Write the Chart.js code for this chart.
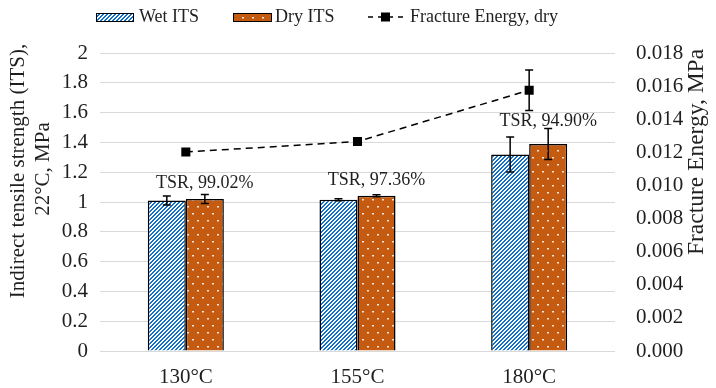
<!DOCTYPE html>
<html>
<head>
<meta charset="utf-8">
<script src="https://cdn.jsdelivr.net/npm/chart.js@4"></script>
<style>
  html, body { margin: 0; padding: 0; background: #fff; }
  canvas { display: block; }
</style>
</head>
<body>
<canvas id="chart" width="716" height="388"></canvas>
<script>
// Mixing temperatures on the category axis
const categories = ['130°C', '155°C', '180°C'];

// Indirect tensile strength (MPa), wet and dry conditioned, with error ranges
const wetITS = [1.010, 1.015, 1.319];
const wetErr = [0.030, 0.007, 0.118];
const dryITS = [1.020, 1.042, 1.390];
const dryErr = [0.030, 0.007, 0.104];

// Tensile strength ratio (%)
const tsr = [99.02, 97.36, 94.90];

// Fracture energy of dry specimens (MPa)
const fractureEnergy = [0.01202, 0.01265, 0.01575];
const fractureErr = [0, 0, 0.00123];

// Axis tick values
const itsTicks = [0, 0.2, 0.4, 0.6, 0.8, 1, 1.2, 1.4, 1.6, 1.8, 2];
const feTicks = [0, 0.002, 0.004, 0.006, 0.008, 0.010, 0.012, 0.014, 0.016, 0.018];

const FONT = "'Liberation Serif', 'Times New Roman', serif";
const TEXT = '#1f1f1f';

// Fill patterns: blue diagonal hatch and orange with white dots
function hatchPattern(ctx) {
  const c = document.createElement('canvas');
  c.width = 4; c.height = 4;
  const g = c.getContext('2d');
  g.fillStyle = '#ffffff';
  g.fillRect(0, 0, 4, 4);
  g.fillStyle = '#1170cc';
  for (let x = 0; x < 4; x++) {
    for (let y = 0; y < 4; y++) {
      if ((x + y) % 4 < 2) g.fillRect(x, y, 1, 1);
    }
  }
  return ctx.createPattern(c, 'repeat');
}
function dotPattern(ctx) {
  const c = document.createElement('canvas');
  c.width = 10; c.height = 14;
  const g = c.getContext('2d');
  g.fillStyle = '#c55a11';
  g.fillRect(0, 0, 10, 14);
  g.fillStyle = 'rgba(255,255,255,0.85)';
  g.fillRect(2, 3, 2, 1.5);
  g.fillRect(7, 10, 2, 1.5);
  return ctx.createPattern(c, 'repeat');
}

const canvas = document.getElementById('chart');
const ctx0 = canvas.getContext('2d');
const wetFill = hatchPattern(ctx0);
const dryFill = dotPattern(ctx0);

// Error bars drawn from each dataset's value and its error range
const errorBars = {
  id: 'errorBars',
  afterDatasetsDraw(chart) {
    const ctx = chart.ctx;
    ctx.save();
    ctx.strokeStyle = '#000';
    ctx.lineWidth = 1.5;
    chart.data.datasets.forEach((ds, di) => {
      if (!ds.errors) return;
      const meta = chart.getDatasetMeta(di);
      const sc = chart.scales[meta.yAxisID];
      meta.data.forEach((el, i) => {
        const e = ds.errors[i];
        if (!e) return;
        const v = ds.data[i];
        const yTop = sc.getPixelForValue(v + e);
        const yBot = sc.getPixelForValue(v - e);
        const x = el.x;
        ctx.beginPath();
        ctx.moveTo(x, yTop); ctx.lineTo(x, yBot);
        ctx.moveTo(x - 4, yTop); ctx.lineTo(x + 4, yTop);
        ctx.moveTo(x - 4, yBot); ctx.lineTo(x + 4, yBot);
        ctx.stroke();
      });
    });
    ctx.restore();
  }
};

// TSR labels above the dry bars
const tsrLabels = {
  id: 'tsrLabels',
  afterDatasetsDraw(chart) {
    const ctx = chart.ctx;
    const meta = chart.getDatasetMeta(1);
    const sc = chart.scales.y;
    ctx.save();
    ctx.font = '18px ' + FONT;
    ctx.fillStyle = TEXT;
    ctx.textAlign = 'center';
    ctx.textBaseline = 'alphabetic';
    meta.data.forEach((el, i) => {
      const errTop = sc.getPixelForValue(dryITS[i] + dryErr[i]);
      const y = Math.min(el.y - 11, errTop - 2);
      ctx.fillText('TSR, ' + tsr[i].toFixed(2) + '%', el.x, y);
    });
    ctx.restore();
  }
};

// Axis titles and legend
const decorations = {
  id: 'decorations',
  afterDraw(chart) {
    const ctx = chart.ctx;
    ctx.save();
    ctx.fillStyle = TEXT;
    ctx.textAlign = 'center';
    ctx.textBaseline = 'middle';

    // left axis title (two lines, rotated)
    ctx.font = '21px ' + FONT;
    ctx.save();
    ctx.translate(18, 171);
    ctx.rotate(-Math.PI / 2);
    ctx.fillText('Indirect tensile strength (ITS),', 0, 0);
    ctx.restore();
    ctx.save();
    ctx.translate(43, 169);
    ctx.rotate(-Math.PI / 2);
    ctx.fillText('22°C, MPa', 0, 0);
    ctx.restore();

    // right axis title
    ctx.save();
    ctx.font = '23.5px ' + FONT;
    ctx.translate(697, 152);
    ctx.rotate(-Math.PI / 2);
    ctx.fillText('Fracture Energy, MPa', 0, 0);
    ctx.restore();

    // legend
    const ly = 17;
    ctx.font = '18px ' + FONT;
    ctx.textAlign = 'left';
    ctx.lineWidth = 1;
    ctx.strokeStyle = '#000';

    ctx.fillStyle = wetFill;
    ctx.fillRect(96, 13, 38, 9);
    ctx.strokeRect(96.5, 13.5, 37, 8);
    ctx.fillStyle = TEXT;
    ctx.fillText(chart.data.datasets[0].label, 139, ly);

    ctx.fillStyle = dryFill;
    ctx.fillRect(233, 13, 39, 9);
    ctx.strokeRect(233.5, 13.5, 38, 8);
    ctx.fillStyle = TEXT;
    ctx.fillText(chart.data.datasets[1].label, 275, ly);

    ctx.lineWidth = 1.5;
    ctx.setLineDash([5, 5]);
    ctx.beginPath();
    ctx.moveTo(368, ly); ctx.lineTo(404, ly);
    ctx.stroke();
    ctx.setLineDash([]);
    ctx.fillStyle = '#000';
    ctx.fillRect(381, ly - 4.5, 9, 9);
    ctx.fillStyle = TEXT;
    ctx.fillText(chart.data.datasets[2].label, 410, ly);

    ctx.restore();
  }
};

Chart.defaults.font.family = FONT;
Chart.defaults.color = TEXT;

new Chart(canvas, {
  data: {
    labels: categories,
    datasets: [
      {
        type: 'bar',
        label: 'Wet ITS',
        data: wetITS,
        errors: wetErr,
        yAxisID: 'y',
        backgroundColor: wetFill,
        borderColor: '#000',
        borderWidth: 1.5,
        categoryPercentage: 0.443,
        barPercentage: 1.0,
        order: 2
      },
      {
        type: 'bar',
        label: 'Dry ITS',
        data: dryITS,
        errors: dryErr,
        yAxisID: 'y',
        backgroundColor: dryFill,
        borderColor: '#000',
        borderWidth: 1.5,
        categoryPercentage: 0.443,
        barPercentage: 1.0,
        order: 2
      },
      {
        type: 'line',
        label: 'Fracture Energy, dry',
        data: fractureEnergy,
        errors: fractureErr,
        yAxisID: 'y2',
        borderColor: '#000',
        borderWidth: 1.5,
        borderDash: [7, 5],
        pointStyle: 'rect',
        pointRadius: 6.4,
        pointBackgroundColor: '#000',
        pointBorderColor: '#000',
        pointBorderWidth: 0,
        fill: false,
        tension: 0,
        order: 0
      }
    ]
  },
  options: {
    responsive: false,
    animation: false,
    devicePixelRatio: 1,
    layout: { padding: { top: 53, left: 0, right: 0, bottom: 0 } },
    plugins: {
      legend: { display: false },
      tooltip: { enabled: false }
    },
    scales: {
      x: {
        grid: { display: false },
        border: { display: false },
        ticks: { font: { size: 21 }, color: TEXT, padding: 6 },
        afterFit(s) { s.height = 37; }
      },
      y: {
        position: 'left',
        min: 0,
        max: 2,
        afterBuildTicks(s) { s.ticks = itsTicks.map(v => ({ value: v })); },
        ticks: {
          font: { size: 21 },
          color: TEXT,
          padding: 12,
          callback: v => String(+v.toFixed(1))
        },
        grid: { color: '#d9d9d9', lineWidth: 1, drawTicks: false },
        border: { display: false },
        afterFit(s) { s.width = 100; }
      },
      y2: {
        position: 'right',
        min: 0,
        max: 0.018,
        afterBuildTicks(s) { s.ticks = feTicks.map(v => ({ value: v })); },
        ticks: {
          font: { size: 21 },
          color: TEXT,
          padding: 21,
          callback: v => v.toFixed(3)
        },
        grid: { display: false, drawTicks: false },
        border: { display: false },
        afterFit(s) { s.width = 101; }
      }
    }
  },
  plugins: [errorBars, tsrLabels, decorations]
});
</script>
</body>
</html>
